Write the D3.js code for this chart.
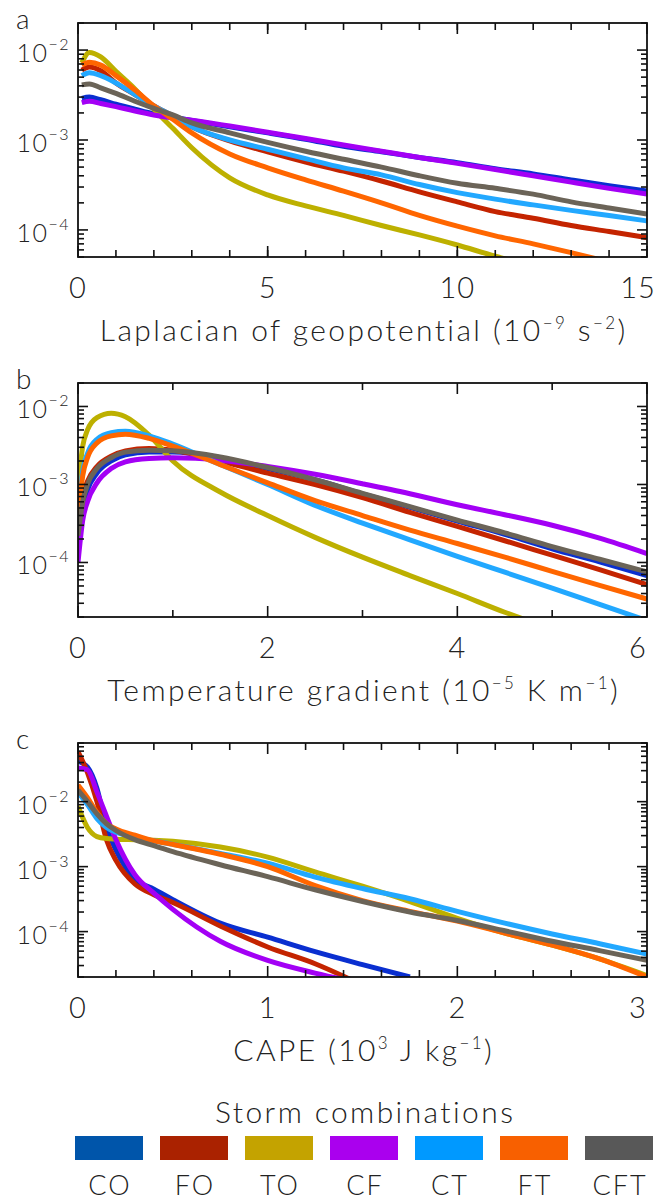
<!DOCTYPE html>
<html>
<head>
<meta charset="utf-8">
<script src="https://cdn.jsdelivr.net/npm/d3@7"></script>
<style>
  html, body { margin: 0; padding: 0; background: #fff; }
  svg { display: block; }
  text { font-family: "Lato", "DejaVu Sans", sans-serif; font-weight: 300; fill: #222; }
</style>
</head>
<body>
<svg id="chart" width="658" height="1201"></svg>
<script>
const names = ['CO', 'FO', 'TO', 'CF', 'CT', 'FT', 'CFT'];
const lineColors = ['#0a2fd0', '#c42400', '#bdb000', '#a300f5', '#22a8ff', '#ff6600', '#6b6458'];
const boxColors = ['#0055aa', '#aa2200', '#c4a300', '#aa00ee', '#0099ff', '#f86000', '#585858'];

// a: Laplacian of geopotential
const lapX = [0.1, 0.3, 0.6, 1, 1.5, 2, 2.5, 3, 4, 5, 6, 7, 8, 9, 10, 11, 12, 13, 14, 15];
const lapCO = [2.9e-3, 3.0e-3, 2.8e-3, 2.5e-3, 2.2e-3, 1.95e-3, 1.8e-3, 1.65e-3, 1.4e-3, 1.2e-3, 1.02e-3, 8.5e-4, 7.4e-4, 6.4e-4, 5.6e-4, 4.8e-4, 4.2e-4, 3.6e-4, 3.1e-4, 2.7e-4];
const lapFO = [6.0e-3, 6.5e-3, 5.9e-3, 4.3e-3, 3.2e-3, 2.4e-3, 1.85e-3, 1.4e-3, 9.8e-4, 7.4e-4, 5.7e-4, 4.5e-4, 3.5e-4, 2.65e-4, 2.05e-4, 1.6e-4, 1.35e-4, 1.12e-4, 9.6e-5, 8.2e-5];
const lapTO = [7.2e-3, 9.4e-3, 8.4e-3, 5.8e-3, 3.7e-3, 2.2e-3, 1.35e-3, 8.2e-4, 3.8e-4, 2.45e-4, 1.85e-4, 1.45e-4, 1.12e-4, 8.8e-5, 6.8e-5, 5.1e-5, 4.0e-5];
const lapCF = [2.6e-3, 2.7e-3, 2.55e-3, 2.35e-3, 2.1e-3, 1.9e-3, 1.76e-3, 1.66e-3, 1.43e-3, 1.22e-3, 1.04e-3, 8.8e-4, 7.5e-4, 6.4e-4, 5.5e-4, 4.7e-4, 4.0e-4, 3.4e-4, 2.9e-4, 2.5e-4];
const lapCT = [5.2e-3, 5.6e-3, 5.2e-3, 4.3e-3, 3.2e-3, 2.4e-3, 1.85e-3, 1.4e-3, 1.0e-3, 7.9e-4, 6.2e-4, 4.9e-4, 4.1e-4, 3.2e-4, 2.6e-4, 2.2e-4, 1.9e-4, 1.65e-4, 1.45e-4, 1.26e-4];
const lapFT = [6.8e-3, 7.3e-3, 6.8e-3, 5.2e-3, 3.6e-3, 2.4e-3, 1.7e-3, 1.2e-3, 7.0e-4, 4.9e-4, 3.6e-4, 2.7e-4, 2.0e-4, 1.45e-4, 1.1e-4, 8.6e-5, 7.0e-5, 5.6e-5, 4.4e-5];
const lapCFT = [4.1e-3, 4.2e-3, 3.8e-3, 3.3e-3, 2.7e-3, 2.25e-3, 1.9e-3, 1.55e-3, 1.2e-3, 9.4e-4, 7.5e-4, 6.1e-4, 5.0e-4, 4.0e-4, 3.3e-4, 2.9e-4, 2.5e-4, 2.05e-4, 1.75e-4, 1.5e-4];

// b: temperature gradient
const tgrX = [0, 0.05, 0.1, 0.2, 0.35, 0.5, 0.75, 1, 1.5, 2, 2.5, 3, 3.5, 4, 4.5, 5, 5.5, 6];
const tgrCO = [1.6e-4, 5e-4, 8.5e-4, 1.4e-3, 2.0e-3, 2.4e-3, 2.6e-3, 2.6e-3, 2.2e-3, 1.6e-3, 1.15e-3, 7.6e-4, 5.1e-4, 3.4e-4, 2.3e-4, 1.5e-4, 1.02e-4, 6.8e-5];
const tgrFO = [2.5e-4, 7e-4, 1.1e-3, 1.7e-3, 2.3e-3, 2.7e-3, 2.9e-3, 2.75e-3, 2.0e-3, 1.4e-3, 1.0e-3, 6.8e-4, 4.4e-4, 2.9e-4, 1.9e-4, 1.24e-4, 8.1e-5, 5.2e-5];
const tgrTO = [9e-4, 3.1e-3, 5.0e-3, 7.2e-3, 8.2e-3, 7.4e-3, 4.3e-3, 2.0e-3, 8.0e-4, 4.0e-4, 2.1e-4, 1.17e-4, 6.8e-5, 4.0e-5, 2.3e-5, 1.4e-5];
const tgrCF = [1.0e-4, 3.5e-4, 6e-4, 1.05e-3, 1.6e-3, 1.95e-3, 2.15e-3, 2.2e-3, 2.05e-3, 1.7e-3, 1.35e-3, 1.02e-3, 7.6e-4, 5.5e-4, 4.1e-4, 3.0e-4, 2.05e-4, 1.3e-4];
const tgrCT = [3.8e-4, 1.5e-3, 2.5e-3, 3.8e-3, 4.6e-3, 4.8e-3, 4.2e-3, 3.3e-3, 1.8e-3, 1.0e-3, 5.4e-4, 3.2e-4, 1.95e-4, 1.2e-4, 7.5e-5, 4.7e-5, 2.9e-5, 1.8e-5];
const tgrFT = [3.5e-4, 1.3e-3, 2.2e-3, 3.4e-3, 4.2e-3, 4.4e-3, 3.9e-3, 3.1e-3, 1.8e-3, 1.05e-3, 6.2e-4, 4.0e-4, 2.6e-4, 1.75e-4, 1.17e-4, 7.7e-5, 5.1e-5, 3.4e-5];
const tgrCFT = [2.2e-4, 6e-4, 1e-3, 1.6e-3, 2.2e-3, 2.6e-3, 2.75e-3, 2.7e-3, 2.25e-3, 1.65e-3, 1.15e-3, 7.7e-4, 5.2e-4, 3.5e-4, 2.4e-4, 1.6e-4, 1.1e-4, 7.6e-5];

// c: CAPE
const capeX = [0, 0.05, 0.1, 0.15, 0.2, 0.3, 0.4, 0.5, 0.75, 1, 1.25, 1.5, 1.75, 2, 2.25, 2.5, 2.75, 3];
const capeCO = [4.2e-2, 3.4e-2, 1.6e-2, 4.0e-3, 1.8e-3, 6.5e-4, 4.5e-4, 3.1e-4, 1.35e-4, 8.2e-5, 4.9e-5, 3.1e-5, 2.0e-5];
const capeFO = [5.9e-2, 2.8e-2, 1.0e-2, 2.6e-3, 1.25e-3, 5.4e-4, 3.7e-4, 2.8e-4, 1.22e-4, 5.8e-5, 3.2e-5, 1.5e-5];
const capeTO = [8.5e-3, 4.0e-3, 2.9e-3, 2.7e-3, 2.65e-3, 2.6e-3, 2.55e-3, 2.45e-3, 2.0e-3, 1.4e-3, 8.3e-4, 5.0e-4, 2.9e-4, 1.6e-4, 9.5e-5, 6.2e-5, 3.8e-5, 2.1e-5];
const capeCF = [3.3e-2, 3.1e-2, 1.4e-2, 6e-3, 2.6e-3, 7.5e-4, 3.9e-4, 2.2e-4, 7.1e-5, 3.6e-5, 2.3e-5, 1.6e-5];
const capeCT = [1.4e-2, 9e-3, 5.5e-3, 4.0e-3, 3.4e-3, 2.85e-3, 2.5e-3, 2.2e-3, 1.6e-3, 1.13e-3, 6.9e-4, 4.6e-4, 3.2e-4, 2.05e-4, 1.35e-4, 9.2e-5, 6.5e-5, 4.5e-5];
const capeFT = [1.8e-2, 1.15e-2, 6.8e-3, 4.6e-3, 3.8e-3, 3.05e-3, 2.5e-3, 2.2e-3, 1.55e-3, 1.0e-3, 5.1e-4, 3.0e-4, 2.05e-4, 1.45e-4, 9.5e-5, 6.2e-5, 3.8e-5, 2.0e-5];
const capeCFT = [1.5e-2, 1.0e-2, 6.5e-3, 4.6e-3, 3.6e-3, 2.6e-3, 2.1e-3, 1.7e-3, 1.07e-3, 7.0e-4, 4.4e-4, 2.9e-4, 2.0e-4, 1.48e-4, 1.03e-4, 7.1e-5, 5.1e-5, 3.6e-5];

const svg = d3.select('#chart');
const left = 78, right = 647;
const bigFont = 30, spacing = 2.4;

const panels = [
    { letter: 'a', top: 23, bottom: 257, xs: lapX,
      series: [lapCO, lapFO, lapTO, lapCF, lapCT, lapFT, lapCFT],
      xDomain: [0, 15], yDomain: [5e-5, 2e-2],
      major: [0, 5, 10, 15], minor: d3.range(1, 15, 1),
      title: [['Laplacian of geopotential (10', 0], ['−9', 1], [' s', 0], ['−2', 1], [')', 0]] },
    { letter: 'b', top: 383, bottom: 617, xs: tgrX,
      series: [tgrCO, tgrFO, tgrTO, tgrCF, tgrCT, tgrFT, tgrCFT],
      xDomain: [0, 6], yDomain: [2e-5, 2e-2],
      major: [0, 2, 4, 6], minor: [1, 3, 5],
      title: [['Temperature gradient (10', 0], ['−5', 1], [' K m', 0], ['−1', 1], [')', 0]] },
    { letter: 'c', top: 743, bottom: 977, xs: capeX,
      series: [capeCO, capeFO, capeTO, capeCF, capeCT, capeFT, capeCFT],
      xDomain: [0, 3], yDomain: [2e-5, 8e-2],
      major: [0, 1, 2, 3], minor: d3.range(0.2, 3, 0.2).filter(v => Math.abs(v - Math.round(v)) > 1e-6),
      title: [['CAPE (10', 0], ['3', 1], [' J kg', 0], ['−1', 1], [')', 0]] }
];

// centred text with letter spacing; trailing spacing compensated
function spaced(sel, ls) {
    sel.style('letter-spacing', ls + 'px')
        .attr('x', +sel.attr('x') + ls / 2);
    return sel;
}

panels.forEach((p, pi) => {
    const x = d3.scaleLinear().domain(p.xDomain).range([left, right]);
    const y = d3.scaleLog().domain(p.yDomain).range([p.bottom, p.top]);
    const g = svg.append('g');

    const clipId = 'clip' + pi;
    g.append('clipPath').attr('id', clipId)
        .append('rect').attr('x', left).attr('y', p.top)
        .attr('width', right - left).attr('height', p.bottom - p.top);

    const line = d3.line()
        .x(d => x(d[0])).y(d => y(d[1]))
        .curve(d3.curveMonotoneX);

    const lines = g.append('g').attr('clip-path', `url(#${clipId})`);
    p.series.forEach((vals, i) => {
        const pts = vals.map((v, k) => [p.xs[k], v]);
        lines.append('path')
            .attr('d', line(pts))
            .attr('fill', 'none')
            .attr('stroke', lineColors[i])
            .attr('stroke-width', 5)
            .attr('stroke-linejoin', 'round');
    });

    // ticks point inward on all four sides
    const ax = g.append('g').attr('stroke', '#111').attr('stroke-width', 1.6);
    const tick = (x1, y1, x2, y2) => ax.append('line')
        .attr('x1', x1).attr('y1', y1).attr('x2', x2).attr('y2', y2);

    p.major.forEach(v => { tick(x(v), p.bottom, x(v), p.bottom - 11); tick(x(v), p.top, x(v), p.top + 11); });
    p.minor.forEach(v => { tick(x(v), p.bottom, x(v), p.bottom - 7); tick(x(v), p.top, x(v), p.top + 7); });

    const isDecade = v => Math.abs(Math.log10(v) - Math.round(Math.log10(v))) < 1e-6;
    const yTicks = y.ticks();
    yTicks.forEach(v => {
        const len = isDecade(v) ? 10 : 6;
        tick(left, y(v), left + len, y(v));
        tick(right, y(v), right - len, y(v));
    });

    g.append('rect')
        .attr('x', left).attr('y', p.top)
        .attr('width', right - left).attr('height', p.bottom - p.top)
        .attr('fill', 'none').attr('stroke', '#111').attr('stroke-width', 1.8);

    // y labels
    yTicks.filter(isDecade).forEach(v => {
        const t = g.append('text')
            .attr('x', 70).attr('y', y(v) + 12)
            .attr('text-anchor', 'end')
            .style('font-size', '25px')
            .style('letter-spacing', '1.5px');
        t.append('tspan').text('10');
        t.append('tspan').attr('dy', -12).style('font-size', '16px')
            .text('−' + Math.abs(Math.round(Math.log10(v))));
    });

    // x labels (last one kept inside the window)
    p.major.forEach(v => {
        g.append('text')
            .attr('x', Math.min(x(v), 638)).attr('y', p.bottom + 41)
            .attr('text-anchor', 'middle')
            .style('font-size', '29px')
            .style('letter-spacing', '1px')
            .text(v);
    });

    // axis title
    const title = g.append('text')
        .attr('x', (left + right) / 2).attr('y', p.bottom + 84)
        .attr('text-anchor', 'middle')
        .style('font-size', bigFont + 'px');
    let raised = false;
    p.title.forEach(([s, sup]) => {
        const ts = title.append('tspan').text(s);
        if (sup && !raised) { ts.attr('dy', -12); raised = true; }
        else if (!sup && raised) { ts.attr('dy', 12); raised = false; }
        if (sup) ts.style('font-size', '17px');
    });
    spaced(title, spacing);

    g.append('text')
        .attr('x', 16).attr('y', p.top + 6)
        .style('font-size', '28px')
        .text(p.letter);
});

// legend
const band = d3.scaleBand().domain(names).range([75, 653]).paddingInner(0.2);
spaced(svg.append('text')
    .attr('x', 364).attr('y', 1123)
    .attr('text-anchor', 'middle')
    .style('font-size', bigFont + 'px')
    .text('Storm combinations'), spacing);

const items = svg.append('g').selectAll('g')
    .data(names).enter().append('g');
items.append('rect')
    .attr('x', d => band(d)).attr('y', 1136)
    .attr('width', band.bandwidth()).attr('height', 24)
    .attr('fill', (d, i) => boxColors[i]);
items.append('text')
    .attr('x', d => band(d) + band.bandwidth() / 2 + 1).attr('y', 1195)
    .attr('text-anchor', 'middle')
    .style('font-size', '27px')
    .style('letter-spacing', '2px')
    .text(d => d);
</script>
</body>
</html>
